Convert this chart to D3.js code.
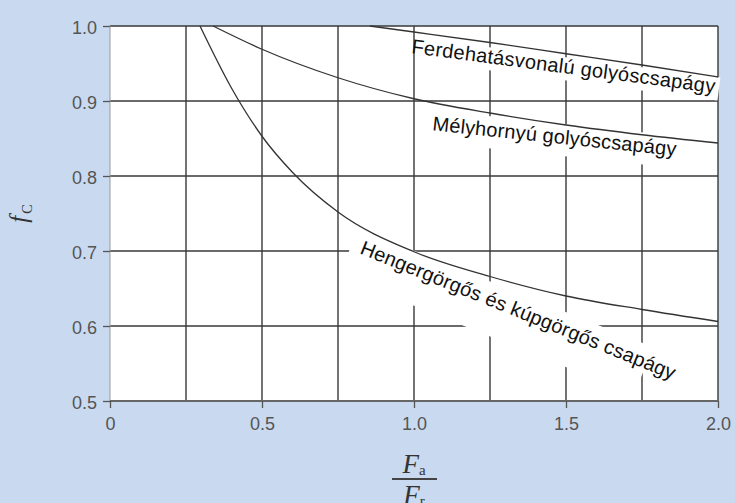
<!DOCTYPE html>
<html>
<head>
<meta charset="utf-8">
<script src="https://cdn.jsdelivr.net/npm/d3@7"></script>
<style>
  body { margin: 0; background: #c9daf0; }
  .tick text { font-family: "Liberation Sans", Arial, sans-serif; font-size: 18px; fill: #555; }
  .curve-label { font-family: "Liberation Sans", Arial, sans-serif; font-size: 20px; fill: #111; }
  .math { font-family: "Liberation Serif", "DejaVu Serif", serif; fill: #333; }
</style>
</head>
<body>
<div id="chart"></div>
<script>
// curves (x = Fa/Fr, y = fc)
const angularX = [0.855, 1.0, 1.25, 1.5, 1.75, 2.0];
const angularY = [1.0, 0.992, 0.978, 0.963, 0.948, 0.932];

const deepX = [0.339, 0.5, 0.75, 1.0, 1.25, 1.5, 1.75, 2.0];
const deepY = [1.0, 0.969, 0.931, 0.903, 0.884, 0.868, 0.855, 0.844];

const rollerX = [0.296, 0.4, 0.5, 0.6, 0.75, 1.0, 1.25, 1.5, 1.75, 2.0];
const rollerY = [1.0, 0.917, 0.853, 0.805, 0.752, 0.699, 0.666, 0.640, 0.622, 0.606];

// axes
const xTicks = [0, 0.5, 1.0, 1.5, 2.0];
const xTickLabels = ["0", "0.5", "1.0", "1.5", "2.0"];
const xGrid = [0.25, 0.5, 0.75, 1.0, 1.25, 1.5, 1.75, 2.0];
const yTicks = [0.5, 0.6, 0.7, 0.8, 0.9, 1.0];
const yTickLabels = ["0.5", "0.6", "0.7", "0.8", "0.9", "1.0"];

// curve labels (start point in data units, angle in degrees)
const labelText = ["Ferdehatásvonalú golyóscsapágy", "Mélyhornyú golyóscsapágy", "Hengergörgős és kúpgörgős csapágy"];
const labelX = [0.99, 1.059, 0.819];
const labelY = [0.964, 0.861, 0.697];
const labelAngle = [7.5, 6, 22];

const margin = {top: 26, right: 17, bottom: 102, left: 110},
    width = 735 - margin.left - margin.right,
    height = 503 - margin.top - margin.bottom;

const svg = d3.select("#chart")
  .append("svg")
    .attr("width", width + margin.left + margin.right)
    .attr("height", height + margin.top + margin.bottom)
  .append("g")
    .attr("transform", `translate(${margin.left},${margin.top})`);

const x = d3.scaleLinear().domain([0, 2]).range([0, width]);
const y = d3.scaleLinear().domain([0.5, 1.0]).range([height, 0]);

// plot background
svg.append("rect")
  .attr("width", width)
  .attr("height", height)
  .attr("fill", "#fff");

// grid lines
svg.append("g")
  .selectAll("line")
  .data(xGrid)
  .join("line")
    .attr("x1", d => x(d)).attr("x2", d => x(d))
    .attr("y1", 0).attr("y2", height)
    .attr("stroke", "#383838").attr("stroke-width", 1.4);

svg.append("g")
  .selectAll("line")
  .data(yTicks.slice(1))
  .join("line")
    .attr("x1", 0).attr("x2", width)
    .attr("y1", d => y(d)).attr("y2", d => y(d))
    .attr("stroke", "#383838").attr("stroke-width", 1.4);

// white patches behind labels (the grid is broken there)
const pads = [[-8, 16, 4, 7], [4, 20, 4, 12], [10, 23, -30, 28]]; // left, top, right, bottom
const lens = [306, 245, 338];

const labelGroups = svg.append("g")
  .selectAll("g")
  .data(labelText)
  .join("g")
    .attr("transform", (d, i) => `translate(${x(labelX[i])},${y(labelY[i])}) rotate(${labelAngle[i]})`);

labelGroups.append("rect")
  .attr("x", (d, i) => -pads[i][0])
  .attr("y", (d, i) => -pads[i][1])
  .attr("width", (d, i) => lens[i] + pads[i][0] + pads[i][2])
  .attr("height", (d, i) => pads[i][1] + pads[i][3])
  .attr("fill", "#fff");

// frame
svg.append("line")
  .attr("x1", 0).attr("x2", 0).attr("y1", 0).attr("y2", height)
  .attr("stroke", "#999").attr("stroke-width", 1);
svg.append("line")
  .attr("x1", 0).attr("x2", width).attr("y1", height).attr("y2", height)
  .attr("stroke", "#666").attr("stroke-width", 2.2);

// axes (tick marks + labels)
const yAxis = svg.append("g")
  .call(d3.axisLeft(y).tickValues(yTicks).tickFormat((d, i) => yTickLabels[i]).tickSize(7).tickPadding(6));
yAxis.select(".domain").remove();
yAxis.selectAll(".tick line").attr("stroke", "#555").attr("stroke-width", 1.3);
yAxis.selectAll(".tick text").attr("dy", "0.4em");

const xAxis = svg.append("g")
  .attr("transform", `translate(0,${height})`)
  .call(d3.axisBottom(x).tickValues(xTicks).tickFormat((d, i) => xTickLabels[i]).tickSize(7).tickPadding(9));
xAxis.select(".domain").remove();
xAxis.selectAll(".tick line").attr("stroke", "#555").attr("stroke-width", 1.3);

// curves
const line = d3.line()
  .x(d => x(d[0]))
  .y(d => y(d[1]))
  .curve(d3.curveMonotoneX);

const curves = [
  d3.zip(angularX, angularY),
  d3.zip(deepX, deepY),
  d3.zip(rollerX, rollerY)
];

svg.append("g")
  .selectAll("path")
  .data(curves)
  .join("path")
    .attr("d", line)
    .attr("fill", "none")
    .attr("stroke", "#333")
    .attr("stroke-width", 1.3);

// curve labels
labelGroups.append("text")
  .attr("class", "curve-label")
  .attr("textLength", (d, i) => lens[i])
  .attr("lengthAdjust", "spacing")
  .text(d => d);

// y label: f_C
const yl = svg.append("text")
  .attr("class", "math")
  .attr("transform", `translate(${-83},${y(0.75)}) rotate(-90)`)
  .attr("text-anchor", "middle");
yl.append("tspan").attr("font-style", "italic").attr("font-size", 25).text("f");
yl.append("tspan").attr("font-size", 14).attr("dx", 2).attr("dy", 5).text("C");

// x label: Fa / Fr
const cx = x(1.0);
const xa = svg.append("text")
  .attr("class", "math")
  .attr("x", cx)
  .attr("y", height + 72)
  .attr("text-anchor", "middle");
xa.append("tspan").attr("font-style", "italic").attr("font-size", 27).text("F");
xa.append("tspan").attr("font-size", 15).attr("dy", 2).text("a");

svg.append("line")
  .attr("x1", cx - 22).attr("x2", cx + 23)
  .attr("y1", height + 78).attr("y2", height + 78)
  .attr("stroke", "#444").attr("stroke-width", 2);

const xr = svg.append("text")
  .attr("class", "math")
  .attr("x", cx)
  .attr("y", height + 103)
  .attr("text-anchor", "middle");
xr.append("tspan").attr("font-style", "italic").attr("font-size", 27).text("F");
xr.append("tspan").attr("font-size", 15).attr("dy", 2).text("r");
</script>
</body>
</html>
